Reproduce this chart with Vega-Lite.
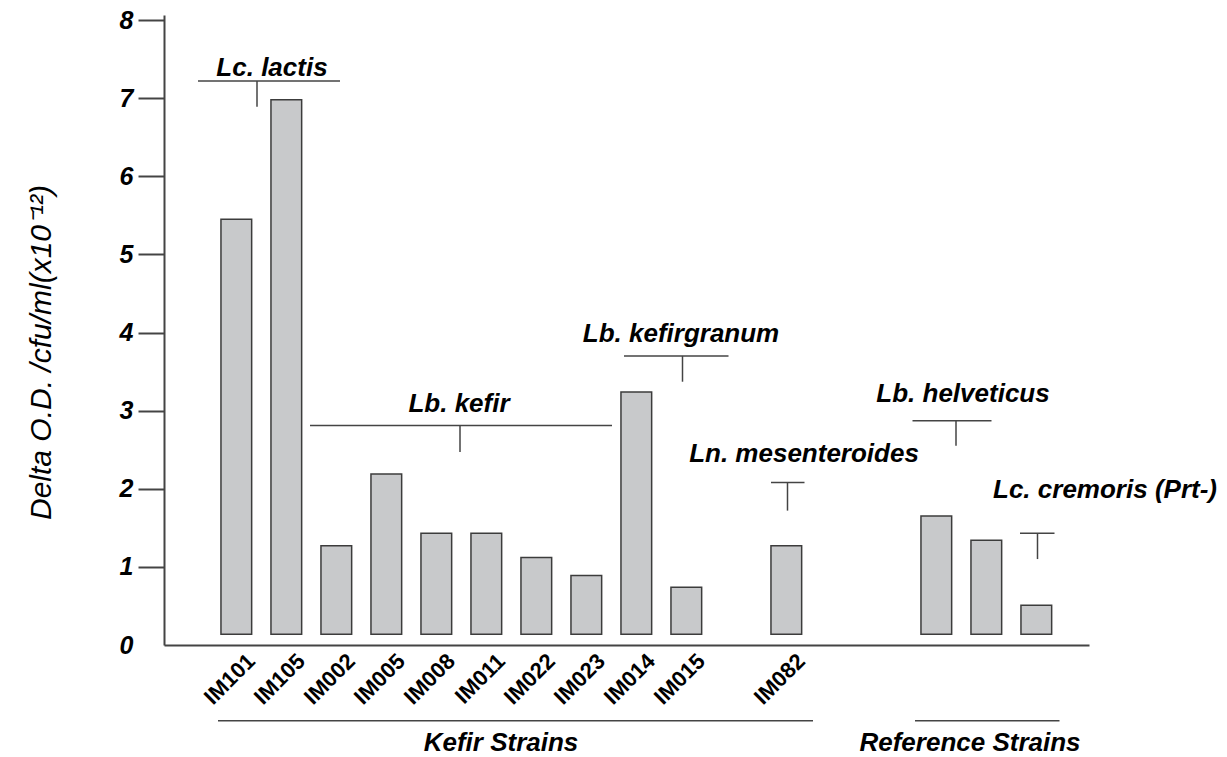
{
  "$schema": "https://vega.github.io/schema/vega-lite/v6.json",
  "width": 925,
  "height": 630,
  "autosize": {"type": "none"},
  "padding": {"left": 164, "top": 15, "right": 138, "bottom": 112},
  "background": "white",
  "config": {"view": {"stroke": null}, "font": "Liberation Sans"},
  "datasets": {
    "bars": [
      {"strain": "IM101", "value": 5.45, "group": "Kefir Strains"},
      {"strain": "IM105", "value": 6.98, "group": "Kefir Strains"},
      {"strain": "IM002", "value": 1.27, "group": "Kefir Strains"},
      {"strain": "IM005", "value": 2.19, "group": "Kefir Strains"},
      {"strain": "IM008", "value": 1.43, "group": "Kefir Strains"},
      {"strain": "IM011", "value": 1.43, "group": "Kefir Strains"},
      {"strain": "IM022", "value": 1.12, "group": "Kefir Strains"},
      {"strain": "IM023", "value": 0.89, "group": "Kefir Strains"},
      {"strain": "IM014", "value": 3.24, "group": "Kefir Strains"},
      {"strain": "IM015", "value": 0.74, "group": "Kefir Strains"},
      {"strain": "IM082", "value": 1.27, "group": "Kefir Strains"},
      {"strain": "Lb. helveticus (1)", "value": 1.65, "group": "Reference Strains"},
      {"strain": "Lb. helveticus (2)", "value": 1.34, "group": "Reference Strains"},
      {"strain": "Lc. cremoris (Prt-)", "value": 0.51, "group": "Reference Strains"}
    ],
    "species": [
      {"label": "Lc. lactis", "line_from": -0.76, "line_to": 2.08, "stem_x": 0.42, "line_y": 7.22, "stem_to": 6.89, "label_x": 0.72, "label_y": 7.28},
      {"label": "Lb. kefir", "line_from": 1.48, "line_to": 7.52, "stem_x": 4.48, "line_y": 2.81, "stem_to": 2.47, "label_x": 4.46, "label_y": 2.98},
      {"label": "Lb. kefirgranum", "line_from": 7.76, "line_to": 9.85, "stem_x": 8.93, "line_y": 3.70, "stem_to": 3.37, "label_x": 8.9, "label_y": 3.88},
      {"label": "Ln. mesenteroides", "line_from": 10.7, "line_to": 11.37, "stem_x": 11.03, "line_y": 2.08, "stem_to": 1.72, "label_x": 11.36, "label_y": 2.34},
      {"label": "Lb. helveticus", "line_from": 13.53, "line_to": 15.11, "stem_x": 14.4, "line_y": 2.87, "stem_to": 2.55, "label_x": 14.54, "label_y": 3.11},
      {"label": "Lc. cremoris (Prt-)", "line_from": 15.68, "line_to": 16.37, "stem_x": 16.03, "line_y": 1.43, "stem_to": 1.10, "label_x": 17.38, "label_y": 1.88}
    ],
    "groups": [
      {"label": "Kefir Strains", "line_from": -0.36, "line_to": 11.54, "line_y": -0.969, "label_x": 5.3, "label_y": -1.36},
      {"label": "Reference Strains", "line_from": 13.58, "line_to": 16.47, "line_y": -0.969, "label_x": 14.68, "label_y": -1.36}
    ]
  },
  "layer": [
    {
      "data": {"name": "bars"},
      "mark": {"type": "bar", "fill": "#c8c9cb", "stroke": "#3c3c3c", "strokeWidth": 1.5},
      "encoding": {
        "x": {
          "field": "strain",
          "type": "nominal",
          "sort": null,
          "scale": {
            "domain": ["IM101", "IM105", "IM002", "IM005", "IM008", "IM011", "IM022", "IM023", "IM014", "IM015", "gap1", "IM082", "gap2", "gap3", "Lb. helveticus (1)", "Lb. helveticus (2)", "Lc. cremoris (Prt-)"],
            "paddingInner": 0.386,
            "paddingOuter": 0.943,
            "align": 0.604
          },
          "axis": {
            "title": null,
            "labelAngle": -45,
            "labelAlign": "right",
            "labelBaseline": "top",
            "labelFont": "Liberation Sans",
            "labelFontWeight": "bold",
            "labelFontSize": 22,
            "labelColor": "black",
            "labelPadding": 5,
            "labelOffset": 8,
            "ticks": false,
            "tickSize": 0,
            "domainColor": "#444",
            "domainWidth": 2,
            "labelExpr": "indexof(datum.label, 'IM') === 0 ? datum.label : ''"
          }
        },
        "y": {
          "field": "value",
          "type": "quantitative",
          "scale": {"domain": [0, 8.064], "nice": false, "zero": false},
          "axis": {
            "values": [0, 1, 2, 3, 4, 5, 6, 7, 8],
            "format": "d",
            "grid": false,
            "title": "Delta O.D. /cfu/ml(x10⁻¹²)",
            "titleFont": "Liberation Sans",
            "titleFontStyle": "italic",
            "titleFontWeight": "normal",
            "titleFontSize": 30,
            "titleColor": "black",
            "titleAngle": 270,
            "titleAlign": "center",
            "titleBaseline": "middle",
            "titleX": -123,
            "titleY": 337,
            "labelFont": "Liberation Sans",
            "labelFontSize": 25,
            "labelFontWeight": "bold",
            "labelFontStyle": "italic",
            "labelColor": "black",
            "labelPadding": 5,
            "labelBaseline": "middle",
            "tickSize": 26,
            "tickWidth": 2,
            "tickColor": "#444",
            "tickOpacity": {"condition": {"test": "datum.value === 0", "value": 0}, "value": 1},
            "domainColor": "#444",
            "domainWidth": 2
          }
        },
        "y2": {"datum": 0.137}
      }
    },
    {
      "layer": [
        {
          "data": {"name": "species"},
          "mark": {"type": "rule", "stroke": "#444", "strokeWidth": 1.5},
          "encoding": {
            "x": {"field": "line_from", "type": "quantitative", "scale": {"domain": [-1.44, 17.06], "nice": false, "zero": false}, "axis": null},
            "x2": {"field": "line_to"},
            "y": {"field": "line_y", "type": "quantitative"}
          }
        },
        {
          "data": {"name": "species"},
          "mark": {"type": "rule", "stroke": "#444", "strokeWidth": 1.5},
          "encoding": {
            "x": {"field": "stem_x", "type": "quantitative", "axis": null},
            "y": {"field": "line_y", "type": "quantitative"},
            "y2": {"field": "stem_to"}
          }
        },
        {
          "data": {"name": "species"},
          "mark": {"type": "text", "font": "Liberation Sans", "fontSize": 26, "fontWeight": "bold", "fontStyle": "italic", "align": "center", "baseline": "alphabetic", "color": "black"},
          "encoding": {
            "x": {"field": "label_x", "type": "quantitative", "axis": null},
            "y": {"field": "label_y", "type": "quantitative"},
            "text": {"field": "label"}
          }
        },
        {
          "data": {"name": "groups"},
          "mark": {"type": "rule", "stroke": "#444", "strokeWidth": 1.5},
          "encoding": {
            "x": {"field": "line_from", "type": "quantitative", "axis": null},
            "x2": {"field": "line_to"},
            "y": {"field": "line_y", "type": "quantitative"}
          }
        },
        {
          "data": {"name": "groups"},
          "mark": {"type": "text", "font": "Liberation Sans", "fontSize": 26, "fontWeight": "bold", "fontStyle": "italic", "align": "center", "baseline": "alphabetic", "color": "black"},
          "encoding": {
            "x": {"field": "label_x", "type": "quantitative", "axis": null},
            "y": {"field": "label_y", "type": "quantitative"},
            "text": {"field": "label"}
          }
        }
      ]
    }
  ],
  "resolve": {"scale": {"x": "independent"}, "axis": {"x": "independent"}}
}
